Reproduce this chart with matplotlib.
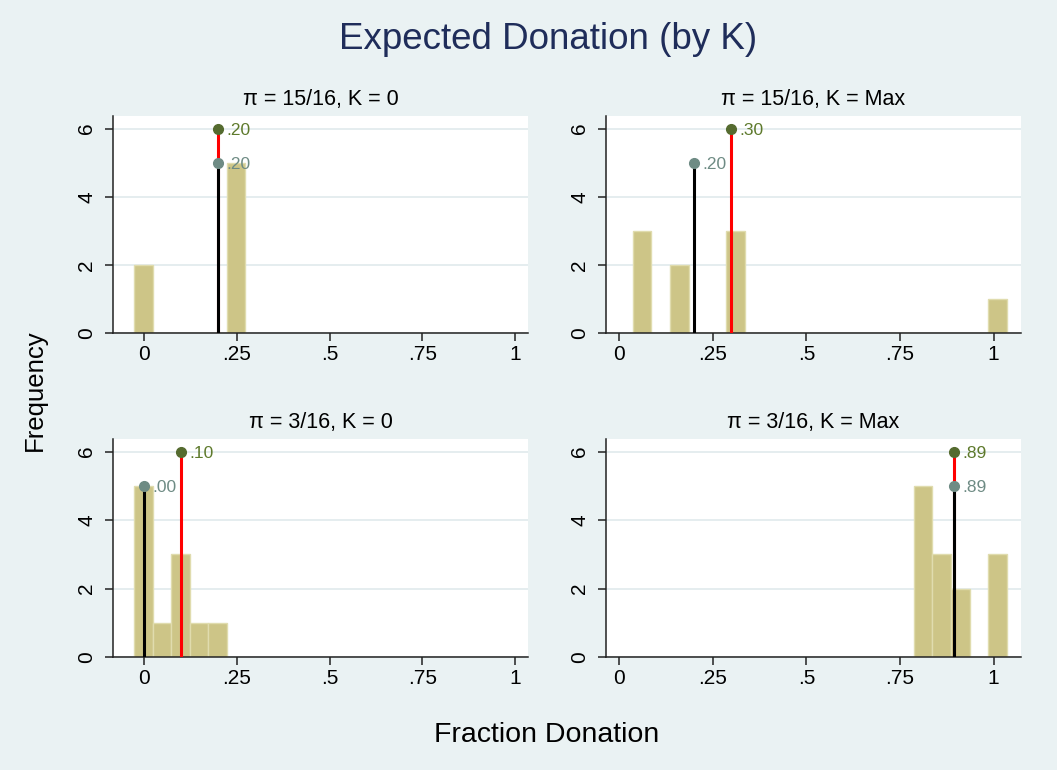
import matplotlib
matplotlib.use('Agg')
import matplotlib.pyplot as plt
import numpy as np

plt.rcParams['font.family'] = ['Liberation Sans', 'DejaVu Sans']

# Panel data
panel_titles = ['π = 15/16, K = 0', 'π = 15/16, K = Max',
                'π = 3/16, K = 0', 'π = 3/16, K = Max']
bin_width = 0.05
bin_starts = [-0.027, 0.036, -0.027, 0.786]
counts = [
    [2, 0, 0, 0, 0, 5],
    [3, 0, 2, 0, 0, 3, 0, 0, 0, 0, 0, 0, 0, 0, 0, 0, 0, 0, 0, 1],
    [5, 1, 3, 1, 1],
    [5, 3, 2, 0, 3],
]
# mean of reference (black line / grey dot) and mean of expected (red line / green dot)
ref_means = [0.20, 0.20, 0.00, 0.894]
exp_means = [0.20, 0.30, 0.10, 0.894]
ref_height = 5
exp_height = 6
xlims = [(-0.0836, 1.035), (-0.035, 1.073), (-0.0836, 1.035), (-0.035, 1.073)]

x_ticks = [0, 0.25, 0.5, 0.75, 1]
x_ticklabels = ['0', '.25', '.5', '.75', '1']
y_ticks = [0, 2, 4, 6]

bg = '#EAF2F3'
bar_fill = '#CDC587'
bar_edge = '#E0DCAE'
grid_col = '#E3ECEE'
green = '#556B2F'
green_txt = '#5E7A2C'
grey = '#6E8B84'
grey_txt = '#6E8B84'

W, H = 1057, 770
fig = plt.figure(figsize=(W / 100, H / 100), dpi=100, facecolor=bg)

# axes boxes in pixels: left, top, right, bottom
boxes = [(113, 116, 528, 333), (606, 116, 1021, 333),
         (113, 439, 528, 657), (606, 439, 1021, 657)]


def fmt(v):
    s = '%.2f' % v
    return s[1:] if s.startswith('0') else s


for i, (l, t, r, b) in enumerate(boxes):
    ax = fig.add_axes([l / W, 1 - b / H, (r - l) / W, (b - t) / H])
    ax.set_facecolor('white')

    c = np.array(counts[i])
    lefts = bin_starts[i] + bin_width * np.arange(len(c))
    ax.bar(lefts, c, width=bin_width, align='edge', color=bar_fill,
           edgecolor=bar_edge, linewidth=1, zorder=2)

    # mean lines
    ax.plot([exp_means[i], exp_means[i]], [0, exp_height], color='red', lw=2.2, zorder=3)
    ax.plot([ref_means[i], ref_means[i]], [0, ref_height], color='black', lw=2.2, zorder=4)
    ax.plot(exp_means[i], exp_height, 'o', color=green, ms=7, zorder=5)
    ax.plot(ref_means[i], ref_height, 'o', color=grey, ms=7, zorder=5)
    ax.annotate(fmt(exp_means[i]), (exp_means[i], exp_height), xytext=(8, -2),
                textcoords='offset pixels', va='center', ha='left',
                fontsize=12.5, color=green_txt, zorder=6)
    ax.annotate(fmt(ref_means[i]), (ref_means[i], ref_height), xytext=(8, -2),
                textcoords='offset pixels', va='center', ha='left',
                fontsize=12.5, color=grey_txt, zorder=4.5)

    ax.set_xlim(*xlims[i])
    ax.set_ylim(0, 6.37)
    ax.set_xticks(x_ticks)
    ax.set_xticklabels(x_ticklabels)
    ax.set_yticks(y_ticks)
    ax.yaxis.grid(True, color=grid_col, lw=1.3, zorder=0)
    ax.set_axisbelow(True)

    for s in ['top', 'right']:
        ax.spines[s].set_visible(False)
    for s in ['left', 'bottom']:
        ax.spines[s].set_color('#222222')
        ax.spines[s].set_linewidth(1.1)

    ax.tick_params(axis='both', length=6, width=1.1, color='#222222',
                   labelsize=15, labelcolor='black')
    ax.tick_params(axis='x', pad=3)
    ax.tick_params(axis='y', pad=6, labelrotation=90)
    for lab in ax.get_yticklabels():
        lab.set_va('center')

    ax.set_title(panel_titles[i], fontsize=15.5, pad=8, color='black')

fig.text(548 / W, 1 - 49 / H, 'Expected Donation (by K)', ha='center', va='baseline',
         fontsize=26.5, color='#1F2D5A')
fig.text(547 / W, 1 - 742 / H, 'Fraction Donation', ha='center', va='baseline',
         fontsize=20.5, color='black')
fig.text(35 / W, 1 - 390 / H, 'Frequency', ha='center', va='center', rotation=90,
         fontsize=18.5, color='black')

fig.savefig('out.png', dpi=100, facecolor=bg)
